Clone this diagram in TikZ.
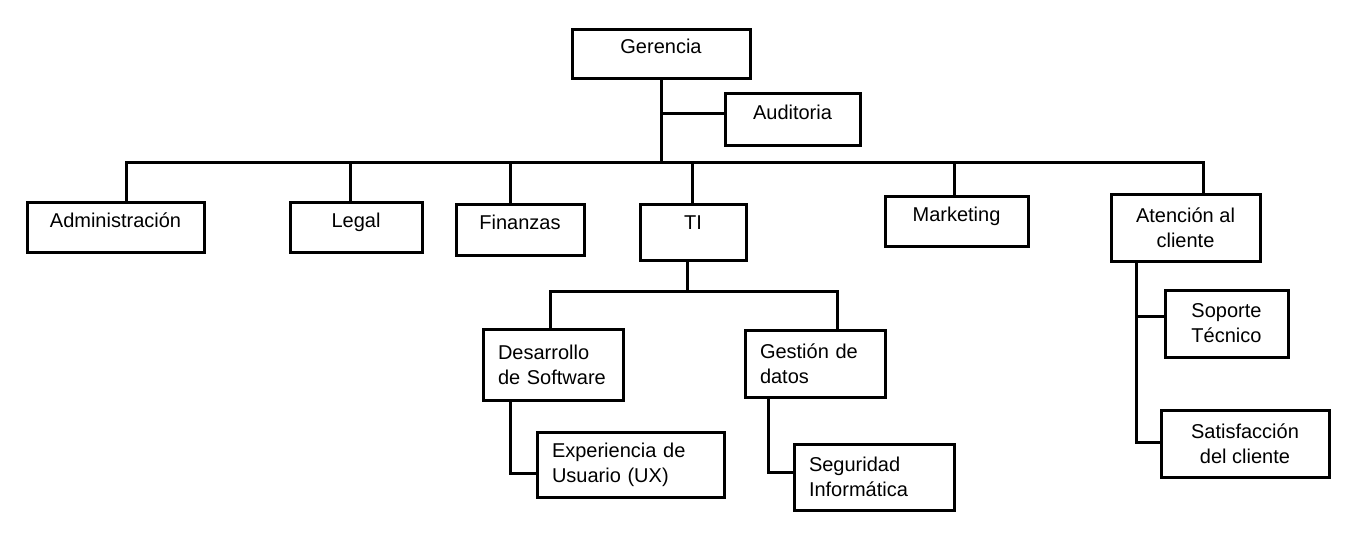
\documentclass[tikz,border=0pt]{standalone}
\usepackage{fontspec}
\setmainfont{Liberation Sans}

\begin{document}
\begin{tikzpicture}[x=1pt,y=-1pt,line width=3pt,line cap=rect,
	unit/.style={draw,inner sep=0pt,font=\fontsize{20}{25}\selectfont},
	onel/.style={unit,text height=15pt,text depth=15pt},
	twol/.style={unit,align=center},
	leftl/.style={unit,align=left,inner xsep=15pt}]
	\useasboundingbox (0,0) rectangle (1371,555);
	\node (ger) at (661,53.5) [onel,minimum width=178pt,minimum height=49pt] {Gerencia};
	\node (aud) at (792.5,119) [onel,minimum width=135pt,minimum height=52pt] {Auditoria};
	\node (adm) at (115.5,227) [onel,minimum width=177pt,minimum height=50pt] {Administración};
	\node (leg) at (356,227) [onel,minimum width=132pt,minimum height=50pt] {Legal};
	\node (fin) at (520,229.5) [onel,minimum width=128pt,minimum height=51pt] {Finanzas};
	\node (ti) at (693,232) [onel,text depth=21pt,minimum width=106pt,minimum height=56pt] {TI};
	\node (mkt) at (956.5,221) [onel,minimum width=143pt,minimum height=50pt] {Marketing};
	\node (ate) at (1185.5,227.5) [twol,minimum width=149pt,minimum height=67pt] {Atención al\\cliente};
	\node (des) at (553,364.5) [leftl,text width=110pt,minimum height=71pt] {Desarrollo\\de Software};
	\node (ges) at (815,363.5) [leftl,text width=110pt,minimum height=67pt] {Gestión de\\datos};
	\node (exp) at (630.5,464.5) [leftl,text width=157pt,minimum height=65pt] {Experiencia de\\Usuario (UX)};
	\node (seg) at (874,477) [leftl,text width=130pt,minimum height=66pt] {Seguridad\\Informática};
	\node (sop) at (1226.5,323.5) [twol,minimum width=123pt,minimum height=67pt] {Soporte\\Técnico};
	\node (sat) at (1245,443.5) [twol,minimum width=168pt,minimum height=67pt] {Satisfacción\\del cliente};
	\coordinate (bus) at (661,162);
	\coordinate (taud) at (661,113);
	\coordinate (tadm) at (126,162);
	\coordinate (tleg) at (350,162);
	\coordinate (tfin) at (510,162);
	\coordinate (tti) at (692,162);
	\coordinate (tmkt) at (954,162);
	\coordinate (tate) at (1203,162);
	\coordinate (tisub) at (687,291);
	\coordinate (tdes) at (550,291);
	\coordinate (tges) at (837,291);
	\coordinate (texp) at (510,473);
	\coordinate (tseg) at (768,472);
	\coordinate (tsop) at (1136,316);
	\coordinate (tsat) at (1136,442);
	\draw (ger.south) -- (bus);
	\draw (taud) -- (taud -| aud.west);
	\draw (tadm) -- (tate);
	\foreach \n in {adm,leg,fin,ti,mkt,ate}
		\draw (t\n) -- (t\n |- \n.north);
	\draw (tisub |- ti.south) -- (tisub);
	\draw (tdes |- des.north) -- (tdes) -- (tges) -- (tges |- ges.north);
	\draw (texp |- des.south) -- (texp) -- (texp -| exp.west);
	\draw (tseg |- ges.south) -- (tseg) -- (tseg -| seg.west);
	\draw (tsat |- ate.south) -- (tsat) -- (tsat -| sat.west);
	\draw (tsop) -- (tsop -| sop.west);
\end{tikzpicture}
\end{document}
